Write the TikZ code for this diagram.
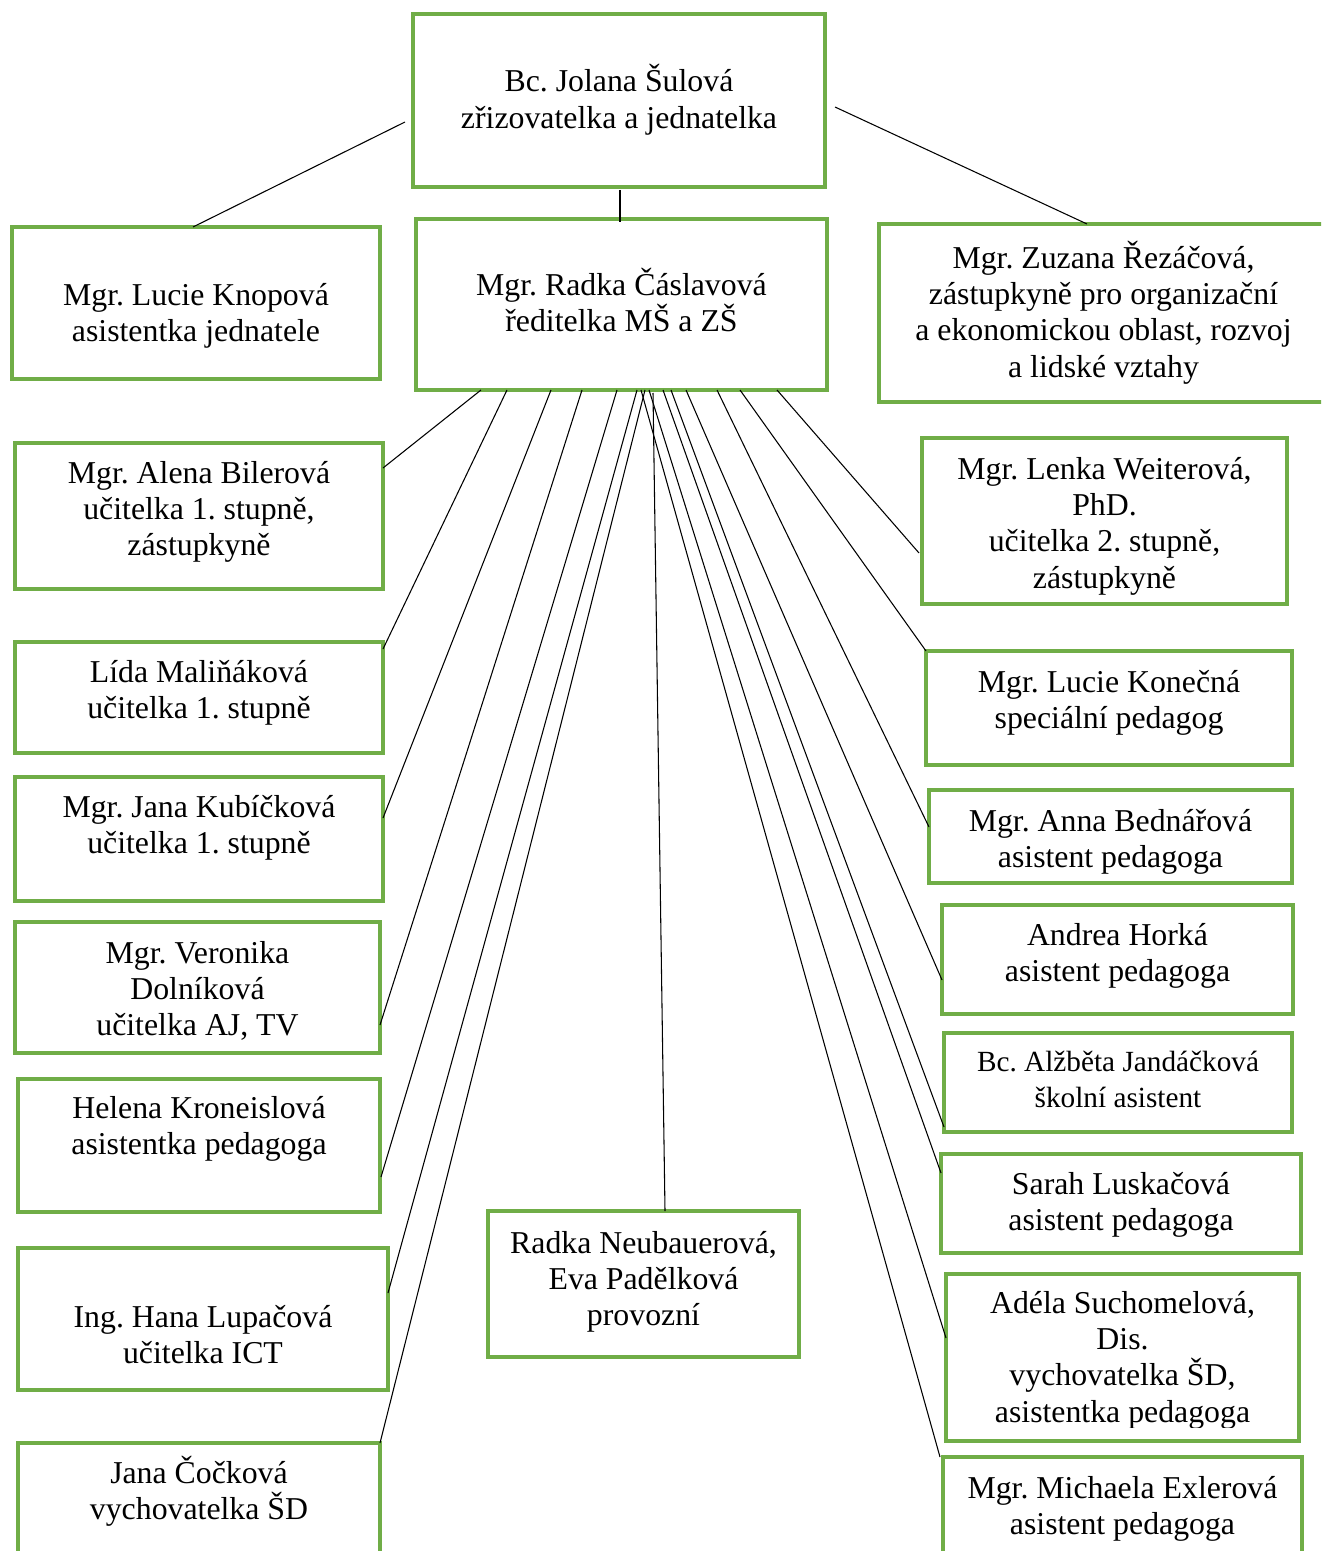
\documentclass[tikz,border=0pt]{standalone}
\usepackage{fontspec}
\setmainfont{Liberation Serif}
\frenchspacing
\usetikzlibrary{calc}
\definecolor{boxgreen}{RGB}{112,173,71}
% \orgbox{name}{x1}{y1}{x2}{y2}{first baseline offset}{number of lines}{text}
% (the base anchor of a multi-line node sits on its last line)
\newcommand\orgbox[8]{%
  \node[orgframe, minimum width={(#4-#2)*0.75pt}, minimum height={(#5-#3)*0.75pt}] (#1) at (#2,#3) {};
  \node[orgtext] (#1-t) at ($(#1.north)+(0,{#6+(#7-1)*36.4})$) {#8};
}
\begin{document}
\begin{tikzpicture}[x=0.75pt,y=-0.75pt,
  orgframe/.style={draw=boxgreen, line width=2.35pt, inner sep=0pt, outer sep=0pt, anchor=north west},
  orgtext/.style={anchor=base, align=center, inner sep=0pt, font=\fontsize{23.85}{27.3}\selectfont},
  conn/.style={draw=black, line width=0.8pt}]
\useasboundingbox (0,0) rectangle (1321,1551);
\clip (0,0) rectangle (1321,1551);

% top level
\orgbox{sul}{413}{14}{825}{187}{78}{2}{Bc. Jolana Šulová\\zřizovatelka a jednatelka}
\orgbox{rd}{416}{219}{827}{390}{76}{2}{Mgr. Radka Čáslavová\\ředitelka MŠ a ZŠ}
\orgbox{kno}{12}{227}{380}{379}{78}{2}{Mgr. Lucie Knopová\\asistentka jednatele}
\orgbox{zuz}{879}{224}{1328}{402}{44}{4}{Mgr. Zuzana Řezáčová,\\zástupkyně pro organizační\\a ekonomickou oblast, rozvoj\\a lidské vztahy}

% left column
\orgbox{bil}{15}{443}{383}{589}{40}{3}{Mgr. Alena Bilerová\\učitelka 1. stupně,\\zástupkyně}
\orgbox{mal}{15}{642}{383}{753}{40}{2}{Lída Maliňáková\\učitelka 1. stupně}
\orgbox{kub}{15}{777}{383}{901}{40}{2}{Mgr. Jana Kubíčková\\učitelka 1. stupně}
\orgbox{dol}{15}{922}{380}{1053}{41}{3}{Mgr. Veronika\\Dolníková\\učitelka AJ, TV}
\orgbox{kro}{18}{1079}{380}{1212}{39}{2}{Helena Kroneislová\\asistentka pedagoga}
\orgbox{lup}{18}{1248}{388}{1390}{79}{2}{Ing. Hana Lupačová\\učitelka ICT}
\orgbox{coc}{18}{1443}{380}{1600}{40}{2}{Jana Čočková\\vychovatelka ŠD}

% centre
\orgbox{neu}{488}{1211}{799}{1357}{42}{3}{Radka Neubauerová,\\Eva Padělková\\provozní}

% right column
\orgbox{wei}{922}{438}{1287}{604}{41}{4}{Mgr. Lenka Weiterová,\\PhD.\\učitelka 2. stupně,\\zástupkyně}
\orgbox{kon}{926}{651}{1292}{765}{41}{2}{Mgr. Lucie Konečná\\speciální pedagog}
\orgbox{bed}{929}{790}{1292}{883}{41}{2}{Mgr. Anna Bednářová\\asistent pedagoga}
\orgbox{hor}{942}{905}{1293}{1014}{40}{2}{Andrea Horká\\asistent pedagoga}
\node[orgframe, minimum width={(1292-944)*0.75pt}, minimum height={(1132-1033)*0.75pt}] (jan) at (944,1033) {};
\node[orgtext, font=\fontsize{21.95}{27.3}\selectfont] (jan-t) at ($(jan.north)+(0,38+36.4)$) {Bc. Alžběta Jandáčková\\školní asistent};
\orgbox{lus}{941}{1154}{1301}{1253}{40}{2}{Sarah Luskačová\\asistent pedagoga}
\node[orgframe, minimum width={(1299-946)*0.75pt}, minimum height={(1441-1274)*0.75pt}] (suc) at (946,1274) {};
\begin{scope}
  % the last line is cut off by the lower edge of the text area
  \clip (946,1274) rectangle (1299,1427);
  \node[orgtext] (suc-t) at ($(suc.north)+(0,39+3*36.4)$) {Adéla Suchomelová,\\Dis.\\vychovatelka ŠD,\\asistentka pedagoga};
\end{scope}
\orgbox{exl}{943}{1457}{1302}{1600}{41}{2}{Mgr. Michaela Exlerová\\asistent pedagoga}

% connectors from the founder
\draw[conn] ($(sul.south)+(1,3)$) -- ($(rd.north)+(-1.5,3)$);
\draw[conn] ($(sul.north west)+(-8,108)$) -- ($(kno.north west)+(181,0)$);
\draw[conn] ($(sul.north east)+(10,93)$) -- ($(zuz.north west)+(208,0)$);

% connectors from the head teacher, left side
\draw[conn] ($(rd.south west)+(65,0)$)  -- ($(bil.north east)+(0,25)$);
\draw[conn] ($(rd.south west)+(91,0)$)  -- ($(mal.north east)+(0,7)$);
\draw[conn] ($(rd.south west)+(135,0)$) -- ($(kub.north east)+(0,41)$);
\draw[conn] ($(rd.south west)+(166,0)$) -- ($(dol.north east)+(0,103)$);
\draw[conn] ($(rd.south west)+(201,0)$) -- ($(kro.north east)+(1,98)$);
\draw[conn] ($(rd.south west)+(221,0)$) -- ($(lup.north east)+(0,45)$);
\draw[conn] ($(rd.south west)+(229,0)$) -- (coc.north east);

% centre
\draw[conn] ($(rd.south west)+(237,3)$) -- ($(neu.north west)+(177,0)$);

% right side
\draw[conn] ($(rd.south west)+(361,0)$) -- ($(wei.north west)+(-3,115)$);
\draw[conn] ($(rd.south west)+(324,0)$) -- (kon.north west);
\draw[conn] ($(rd.south west)+(301,0)$) -- ($(bed.north west)+(0,37)$);
\draw[conn] ($(rd.south west)+(270,0)$) -- ($(hor.north west)+(0,75)$);
\draw[conn] ($(rd.south west)+(255,0)$) -- ($(jan.north west)+(0,94)$);
\draw[conn] ($(rd.south west)+(247,0)$) -- ($(lus.north west)+(0,19)$);
\draw[conn] ($(rd.south west)+(233,0)$) -- ($(suc.north west)+(0,64)$);
\draw[conn] ($(rd.south west)+(225,0)$) -- ($(exl.north west)+(-3,0)$);
\end{tikzpicture}
\end{document}
